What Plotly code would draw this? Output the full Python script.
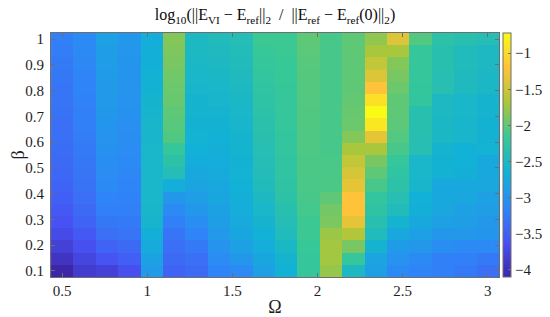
import numpy as np
import plotly.graph_objects as go

# Grid (20 x 20)
omega = list(np.linspace(0.5, 3.0, 20))
beta = list(np.linspace(0.1, 1.0, 20))

# Values per Omega column, listed from top row (beta=1) to bottom row (beta=0.1)
col00 = [-3.2, -3.22, -3.25, -3.27, -3.3, -3.3, -3.32, -3.35, -3.35, -3.38, -3.4, -3.42, -3.45, -3.5, -3.55, -3.62, -3.7, -3.8, -3.95, -4.1]
col01 = [-3.1, -3.1, -3.12, -3.15, -3.15, -3.17, -3.2, -3.2, -3.22, -3.25, -3.27, -3.3, -3.32, -3.35, -3.4, -3.45, -3.55, -3.65, -3.75, -3.85]
col02 = [-2.85, -2.87, -2.88, -2.9, -2.92, -2.93, -2.95, -2.97, -3.0, -3.02, -3.05, -3.08, -3.1, -3.15, -3.2, -3.27, -3.35, -3.45, -3.6, -3.8]
col03 = [-2.95, -2.96, -2.97, -2.98, -2.99, -3.0, -3.02, -3.04, -3.06, -3.08, -3.1, -3.12, -3.15, -3.18, -3.2, -3.25, -3.3, -3.4, -3.5, -3.65]
col04 = [-2.7, -2.68, -2.66, -2.64, -2.62, -2.6, -2.58, -2.57, -2.56, -2.55, -2.55, -2.55, -2.55, -2.55, -2.56, -2.58, -2.68, -2.72, -2.82, -2.9]
col05 = [-1.85, -1.87, -1.9, -1.93, -1.95, -1.97, -2.0, -2.03, -2.06, -2.2, -2.3, -2.4, -2.7, -2.95, -3.1, -3.2, -3.3, -3.35, -3.4, -3.45]
col06 = [-2.5, -2.5, -2.52, -2.55, -2.57, -2.6, -2.6, -2.62, -2.63, -2.65, -2.7, -2.75, -2.8, -2.87, -2.95, -3.05, -3.15, -3.25, -3.35, -3.4]
col07 = [-2.45, -2.47, -2.5, -2.52, -2.55, -2.57, -2.6, -2.62, -2.65, -2.67, -2.7, -2.72, -2.75, -2.78, -2.82, -2.87, -2.93, -3.0, -3.08, -3.15]
col08 = [-2.4, -2.42, -2.45, -2.47, -2.5, -2.52, -2.55, -2.57, -2.6, -2.6, -2.62, -2.63, -2.65, -2.67, -2.7, -2.73, -2.78, -2.85, -2.95, -3.1]
col09 = [-2.15, -2.17, -2.2, -2.22, -2.25, -2.27, -2.3, -2.33, -2.35, -2.38, -2.4, -2.42, -2.45, -2.5, -2.55, -2.6, -2.65, -2.7, -2.78, -2.85]
col10 = [-2.15, -2.15, -2.17, -2.17, -2.18, -2.2, -2.2, -2.2, -2.22, -2.22, -2.25, -2.25, -2.27, -2.3, -2.35, -2.4, -2.45, -2.52, -2.6, -2.65]
col11 = [-2.0, -2.02, -2.03, -2.04, -2.05, -2.05, -2.06, -2.06, -2.07, -2.07, -2.08, -2.08, -2.09, -2.1, -2.12, -2.15, -2.15, -2.17, -2.2, -2.2]
col12 = [-2.1, -2.1, -2.1, -2.1, -2.1, -2.1, -2.1, -2.1, -2.1, -2.1, -2.09, -2.09, -2.08, -2.0, -1.92, -1.88, -1.75, -1.72, -1.72, -1.78]
col13 = [-2.0, -2.0, -2.0, -2.0, -2.0, -1.98, -1.97, -1.95, -1.85, -1.7, -1.55, -1.45, -1.35, -1.2, -1.2, -1.35, -1.65, -1.9, -2.2, -2.5]
col14 = [-1.8, -1.7, -1.55, -1.4, -1.2, -0.95, -0.72, -0.9, -1.35, -1.7, -1.9, -2.0, -2.1, -2.22, -2.27, -2.35, -2.45, -2.6, -2.8, -2.85]
col15 = [-1.4, -1.7, -1.85, -1.9, -1.95, -2.0, -2.0, -2.02, -2.05, -2.1, -2.2, -2.25, -2.3, -2.37, -2.45, -2.6, -2.75, -2.9, -3.0, -3.1]
col16 = [-2.05, -2.2, -2.2, -2.2, -2.22, -2.22, -2.35, -2.35, -2.37, -2.37, -2.55, -2.55, -2.57, -2.65, -2.67, -2.75, -2.85, -2.95, -3.1, -3.15]
col17 = [-2.3, -2.35, -2.35, -2.37, -2.37, -2.5, -2.5, -2.52, -2.52, -2.6, -2.62, -2.62, -2.75, -2.75, -2.77, -2.85, -2.95, -3.05, -3.2, -3.2]
col18 = [-2.35, -2.45, -2.45, -2.47, -2.47, -2.55, -2.55, -2.57, -2.57, -2.65, -2.65, -2.67, -2.75, -2.77, -2.85, -2.87, -2.95, -3.1, -3.2, -3.25]
col19 = [-2.4, -2.5, -2.5, -2.52, -2.52, -2.6, -2.6, -2.62, -2.62, -2.63, -2.75, -2.75, -2.77, -2.85, -2.87, -2.95, -2.97, -3.1, -3.25, -3.35]

columns = [col00, col01, col02, col03, col04, col05, col06, col07, col08, col09,
           col10, col11, col12, col13, col14, col15, col16, col17, col18, col19]

# z[j][k]: row j = beta index (bottom to top), column k = omega index
z = [[columns[k][19 - j] for k in range(20)] for j in range(20)]

parula = [
    [0.0, "rgb(62,38,168)"],
    [1 / 7, "rgb(72,82,244)"],
    [2 / 7, "rgb(46,135,247)"],
    [3 / 7, "rgb(18,177,214)"],
    [4 / 7, "rgb(55,200,151)"],
    [5 / 7, "rgb(171,199,57)"],
    [6 / 7, "rgb(254,195,56)"],
    [1.0, "rgb(249,251,21)"],
]

cb_ticks = [-4, -3.5, -3, -2.5, -2, -1.5, -1]
font = "Liberation Serif"
axcol = "rgb(110,110,110)"
txtcol = "rgb(30,30,30)"

fig = go.Figure(go.Heatmap(
    x=omega, y=beta, z=z,
    colorscale=parula, zmin=-4.1, zmax=-0.72,
    colorbar=dict(
        x=1.009, xanchor="left", xpad=0,
        y=0.5, yanchor="middle", ypad=0,
        len=1.0, lenmode="fraction",
        thickness=8, outlinecolor=axcol, outlinewidth=1,
        tickvals=cb_ticks, ticktext=[f"\u2212{abs(v):g}" for v in cb_ticks],
        ticks="inside", ticklen=3, tickcolor=axcol,
        tickfont=dict(family=font, size=15, color=txtcol),
    ),
))

# The page body has an 8 px margin, so the figure is placed at (8, 8) in the window.
fig.update_layout(
    width=550, height=317,
    margin=dict(l=43, r=56, t=25, b=48, pad=0),
    paper_bgcolor="white", plot_bgcolor="white",
    font=dict(family=font, size=15, color=txtcol),
    title=dict(
        text="log<sub>10</sub>(||E<sub>VI</sub> \u2212 E<sub>ref</sub>||<sub>2</sub>  /  ||E<sub>ref</sub> \u2212 E<sub>ref</sub>(0)||<sub>2</sub>)",
        x=0.5, xref="paper", xanchor="center", y=1.0, yanchor="top",
        pad=dict(t=1, b=0),
        font=dict(family=font, size=16, color="rgb(10,10,10)"),
    ),
    xaxis=dict(
        range=[0.434, 3.066], tickvals=[0.5, 1, 1.5, 2, 2.5, 3],
        ticktext=["0.5", "1", "1.5", "2", "2.5", "3"],
        tickfont=dict(family=font, size=15, color=txtcol),
        ticks="inside", ticklen=4, tickcolor=axcol,
        showline=True, linecolor=axcol, mirror="ticks",
        showgrid=False, zeroline=False, automargin=False,
        title=dict(text="\u03a9", standoff=2, font=dict(family=font, size=18, color=txtcol)),
    ),
    yaxis=dict(
        range=[0.0763, 1.0237],
        tickvals=[0.1, 0.2, 0.3, 0.4, 0.5, 0.6, 0.7, 0.8, 0.9, 1.0],
        ticktext=["0.1", "0.2", "0.3", "0.4", "0.5", "0.6", "0.7", "0.8", "0.9", "1"],
        tickfont=dict(family=font, size=15, color=txtcol),
        ticks="inside", ticklen=4, tickcolor=axcol, ticklabelstandoff=3,
        showline=True, linecolor=axcol, mirror="ticks",
        showgrid=False, zeroline=False, automargin=False,
        title=dict(text="\u03b2", standoff=4, font=dict(family=font, size=18, color=txtcol)),
    ),
)

fig.write_html("out.html")
